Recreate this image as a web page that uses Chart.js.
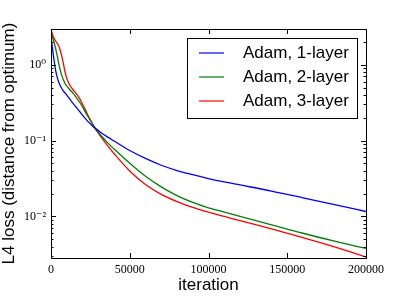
<!DOCTYPE html>
<html>
<head>
<meta charset="utf-8">
<script src="https://cdn.jsdelivr.net/npm/chart.js@4.4.1/dist/chart.umd.min.js"></script>
<style>
  html, body { margin: 0; padding: 0; background: #fff; }
  #wrap { width: 407px; height: 296px; }
</style>
</head>
<body>
<div id="wrap"><canvas id="lossChart"></canvas></div>
<script>
const iterations = [0, 1000, 2000, 3000, 4000, 5000, 6000, 7000, 8000, 9000, 10000,
  12000, 14000, 16000, 18000, 20000, 22000, 24000, 26000, 28000, 32000, 36000, 40000,
  50000, 60000, 70000, 80000, 90000, 100000, 110000, 120000, 140000, 160000, 180000, 200000];

const adam1 = [2.34, 1.62, 1.12, 0.832, 0.676, 0.582, 0.525, 0.479, 0.447, 0.422, 0.398,
  0.351, 0.309, 0.275, 0.245, 0.216, 0.193, 0.174, 0.158, 0.146, 0.126, 0.111, 0.0989,
  0.0741, 0.0582, 0.0473, 0.0403, 0.0355, 0.0316, 0.0285, 0.026, 0.0216, 0.0176, 0.0143, 0.0116];

const adam2 = [2.57, 2.29, 1.95, 1.62, 1.3, 1.02, 0.832, 0.708, 0.624, 0.562, 0.525,
  0.468, 0.422, 0.372, 0.324, 0.279, 0.234, 0.2, 0.17, 0.146, 0.115, 0.0933, 0.0776,
  0.0501, 0.0339, 0.0245, 0.0188, 0.0153, 0.013, 0.0114, 0.01, 0.00776, 0.006, 0.00473, 0.00378];

const adam3 = [2.88, 2.51, 2.21, 2.04, 1.91, 1.76, 1.51, 1.26, 1.0, 0.794, 0.661,
  0.537, 0.468, 0.417, 0.363, 0.302, 0.251, 0.204, 0.172, 0.145, 0.11, 0.0851, 0.0676,
  0.0398, 0.0263, 0.0195, 0.0157, 0.0132, 0.0114, 0.01, 0.00881, 0.00684, 0.00525, 0.00398, 0.00292];

const seriesLabels = ['Adam, 1-layer', 'Adam, 2-layer', 'Adam, 3-layer'];
const seriesColors = ['#0000ff', '#008000', '#ff0000'];

const xTickValues = [0, 50000, 100000, 150000, 200000];
const xTickLabels = ['0', '50000', '100000', '150000', '200000'];
const yTickValues = [0.01, 0.1, 1];
const yTickLabels = ['10\u207B\u00B2', '10\u207B\u00B9', '10\u2070'];
const yMinorBase = [2, 3, 4, 5, 6, 7, 8, 9];

const SANS = "'Liberation Sans', Arial, sans-serif";
const SERIF = "'Liberation Serif', 'DejaVu Serif', serif";

// matplotlib-style frame, inward ticks on all four sides, legend box
const frameAndLegend = {
  id: 'frameAndLegend',
  afterDatasetsDraw(chart) {
    const ctx = chart.ctx;
    const a = chart.chartArea;
    const xs = chart.scales.x, ys = chart.scales.y;
    ctx.save();
    ctx.strokeStyle = '#000';
    ctx.lineWidth = 1;

    ctx.beginPath();
    xTickValues.forEach(v => {
      const px = Math.round(xs.getPixelForValue(v)) + 0.5;
      ctx.moveTo(px, a.bottom); ctx.lineTo(px, a.bottom - 5);
      ctx.moveTo(px, a.top); ctx.lineTo(px, a.top + 5);
    });
    const decades = [0.001, 0.01, 0.1, 1];
    decades.forEach(d => {
      yMinorBase.forEach(m => {
        const v = d * m;
        if (v < ys.min || v > ys.max) return;
        const py = Math.round(ys.getPixelForValue(v)) + 0.5;
        ctx.moveTo(a.left, py); ctx.lineTo(a.left + 2.5, py);
        ctx.moveTo(a.right, py); ctx.lineTo(a.right - 2.5, py);
      });
    });
    yTickValues.forEach(v => {
      const py = Math.round(ys.getPixelForValue(v)) + 0.5;
      ctx.moveTo(a.left, py); ctx.lineTo(a.left + 5, py);
      ctx.moveTo(a.right, py); ctx.lineTo(a.right - 5, py);
    });
    ctx.stroke();

    ctx.strokeRect(Math.round(a.left) + 0.5, Math.round(a.top) + 0.5,
      Math.round(a.right - a.left), Math.round(a.bottom - a.top));

    // legend
    const bx = 187.5, by = 38.5, bw = 170, bh = 80;
    ctx.fillStyle = '#fff';
    ctx.fillRect(bx, by, bw, bh);
    ctx.strokeRect(bx, by, bw, bh);
    ctx.font = '17px ' + SANS;
    ctx.textBaseline = 'middle';
    ctx.textAlign = 'left';
    chart.data.datasets.forEach((ds, i) => {
      const cy = 53 + i * 24;
      ctx.strokeStyle = ds.borderColor;
      ctx.lineWidth = 1.2;
      ctx.beginPath();
      ctx.moveTo(199, cy); ctx.lineTo(224, cy);
      ctx.stroke();
      ctx.fillStyle = '#000';
      ctx.fillText(ds.label, 243, cy);
    });
    ctx.restore();
  }
};

new Chart(document.getElementById('lossChart'), {
  type: 'line',
  data: {
    datasets: [adam1, adam2, adam3].map((vals, i) => ({
      label: seriesLabels[i],
      data: vals.map((v, k) => ({ x: iterations[k], y: v })),
      borderColor: seriesColors[i],
      borderWidth: 1.3,
      pointRadius: 0,
      fill: false,
      cubicInterpolationMode: 'monotone'
    }))
  },
  options: {
    responsive: true,
    maintainAspectRatio: false,
    animation: false,
    layout: { padding: { top: 29, right: 41, left: 0, bottom: 0 } },
    plugins: { legend: { display: false }, tooltip: { enabled: false } },
    scales: {
      x: {
        type: 'linear',
        min: 0,
        max: 200000,
        grid: { display: false, drawTicks: false },
        border: { display: false },
        afterBuildTicks: s => { s.ticks = xTickValues.map(v => ({ value: v })); },
        afterFit: s => { s.height = 38; },
        ticks: {
          color: '#000',
          padding: 5,
          maxRotation: 0,
          font: { family: SERIF, size: 12 },
          callback: v => xTickLabels[xTickValues.indexOf(v)]
        },
        title: {
          display: true,
          text: 'iteration',
          color: '#000',
          padding: { top: 0, bottom: 0 },
          font: { family: SANS, size: 17, lineHeight: 1.2 }
        }
      },
      y: {
        type: 'logarithmic',
        min: 0.00283,
        max: 2.96,
        grid: { display: false, drawTicks: false },
        border: { display: false },
        afterBuildTicks: s => { s.ticks = yTickValues.map(v => ({ value: v, major: true })); },
        afterFit: s => { s.width = 51; },
        ticks: {
          color: '#000',
          padding: 5,
          font: { family: SERIF, size: 12 },
          callback: v => yTickLabels[yTickValues.indexOf(v)]
        },
        title: {
          display: true,
          text: 'L4 loss (distance from optimum)',
          color: '#000',
          padding: { top: 0, bottom: 0 },
          font: { family: SANS, size: 17, lineHeight: 1.06 }
        }
      }
    }
  },
  plugins: [frameAndLegend]
});
</script>
</body>
</html>
